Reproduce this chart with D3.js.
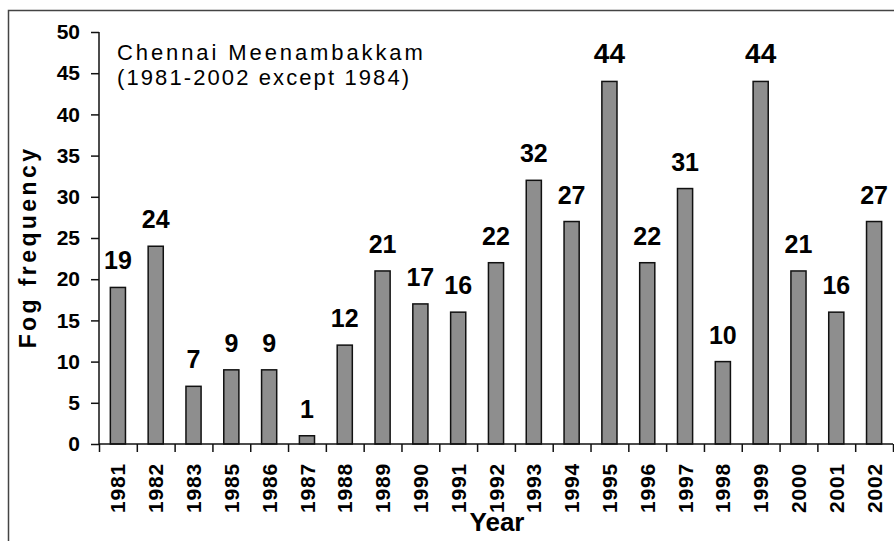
<!DOCTYPE html>
<html>
<head>
<meta charset="utf-8">
<script src="https://cdn.jsdelivr.net/npm/d3@7"></script>
<style>
  body { margin: 0; background: #fff; }
  text { font-family: "Liberation Sans", Arial, sans-serif; }
</style>
</head>
<body>
<div id="chart"></div>
<script>
// data
var years = ["1981", "1982", "1983", "1985", "1986", "1987", "1988", "1989", "1990", "1991", "1992",
             "1993", "1994", "1995", "1996", "1997", "1998", "1999", "2000", "2001", "2002"];
var fogDays = [19, 24, 7, 9, 9, 1, 12, 21, 17, 16, 22, 32, 27, 44, 22, 31, 10, 44, 21, 16, 27];
var yTicks = [0, 5, 10, 15, 20, 25, 30, 35, 40, 45, 50];
var titleLines = ["Chennai Meenambakkam", "(1981-2002 except 1984)"];

var svgWidth = 894;
var svgHeight = 541;

var chartMargin = { top: 32, right: 1, bottom: 97, left: 99 };
var chartWidth = svgWidth - chartMargin.left - chartMargin.right;
var chartHeight = svgHeight - chartMargin.top - chartMargin.bottom;

var data = years.map(function(y, i) { return { year: y, value: fogDays[i] }; });

var svg = d3.select("#chart")
  .append("svg")
  .attr("width", svgWidth)
  .attr("height", svgHeight);

// outer frame (only top and left visible)
svg.append("path")
  .attr("d", "M8.5," + svgHeight + "V10.5H" + svgWidth)
  .attr("fill", "none")
  .attr("stroke", "#444")
  .attr("stroke-width", 1.5);

var chartGroup = svg.append("g")
  .attr("transform", `translate(${chartMargin.left}, ${chartMargin.top})`);

// scales
var xBand = d3.scaleBand()
  .domain(years)
  .range([0, chartWidth])
  .paddingInner(0.6)
  .paddingOuter(0.3);

var xEdges = d3.scaleLinear()
  .domain([0, years.length])
  .range([0, chartWidth]);

var yLinear = d3.scaleLinear()
  .domain([0, 50])
  .range([chartHeight, 0]);

// bars
chartGroup.selectAll(".bar")
  .data(data)
  .enter()
  .append("rect")
  .attr("class", "bar")
  .attr("x", d => xBand(d.year))
  .attr("y", d => yLinear(d.value))
  .attr("width", xBand.bandwidth())
  .attr("height", d => chartHeight - yLinear(d.value))
  .attr("fill", "#8e8e8e")
  .attr("stroke", "#111")
  .attr("stroke-width", 1.5);

// value labels
var maxVal = d3.max(fogDays);
chartGroup.selectAll(".val")
  .data(data)
  .enter()
  .append("text")
  .attr("class", "val")
  .attr("x", d => xBand(d.year) + xBand.bandwidth() / 2)
  .attr("y", d => yLinear(d.value) - 18)
  .attr("text-anchor", "middle")
  .style("font-weight", "bold")
  .style("font-size", d => d.value === maxVal ? "28px" : "25px")
  .text(d => d.value);

// y axis
var leftAxis = d3.axisLeft(yLinear)
  .tickValues(yTicks)
  .tickSize(8)
  .tickPadding(11);

var yAxisG = chartGroup.append("g").call(leftAxis);
yAxisG.select(".domain").attr("d", `M0,0V${chartHeight}`);
yAxisG.selectAll("path, line").attr("stroke", "#111").attr("stroke-width", 1.5);
yAxisG.selectAll("text")
  .attr("fill", "#000")
  .style("font-size", "21px")
  .style("font-weight", "bold")
  .style("font-family", "'Liberation Sans', Arial, sans-serif");

// x axis: boundary ticks
var edgeAxis = d3.axisBottom(xEdges)
  .ticks(years.length)
  .tickSize(8)
  .tickFormat("");

var xAxisG = chartGroup.append("g")
  .attr("transform", `translate(0, ${chartHeight})`)
  .call(edgeAxis);
xAxisG.select(".domain").attr("d", `M0,0H${chartWidth}`);
xAxisG.selectAll("path, line").attr("stroke", "#111").attr("stroke-width", 1.5);

// x axis: year labels
var bottomAxis = d3.axisBottom(xBand).tickSize(0).tickPadding(0);
var yearG = chartGroup.append("g")
  .attr("transform", `translate(0, ${chartHeight})`)
  .call(bottomAxis);
yearG.select(".domain").remove();
yearG.selectAll("text")
  .attr("transform", "rotate(-90)")
  .attr("x", -19)
  .attr("y", 0)
  .attr("dy", "0.36em")
  .attr("text-anchor", "end")
  .attr("fill", "#000")
  .style("font-size", "21px")
  .style("font-weight", "bold")
  .style("letter-spacing", "0.8px")
  .style("font-family", "'Liberation Sans', Arial, sans-serif");

// title
svg.selectAll(".title")
  .data(titleLines)
  .enter()
  .append("text")
  .attr("class", "title")
  .attr("x", 117)
  .attr("y", (d, i) => 60 + i * 25)
  .style("font-size", "22px")
  .style("letter-spacing", (d, i) => i === 0 ? "2.9px" : "2.1px")
  .text(d => d);

// x-axis label
svg.append("text")
  .attr("x", 497)
  .attr("y", 531)
  .attr("text-anchor", "middle")
  .style("font-size", "26px")
  .style("font-weight", "bold")
  .text("Year");

// y-axis label
svg.append("text")
  .attr("transform", "rotate(-90)")
  .attr("x", -247)
  .attr("y", 36)
  .attr("text-anchor", "middle")
  .style("font-size", "23px")
  .style("font-weight", "bold")
  .style("letter-spacing", "3.4px")
  .text("Fog frequency");
</script>
</body>
</html>
